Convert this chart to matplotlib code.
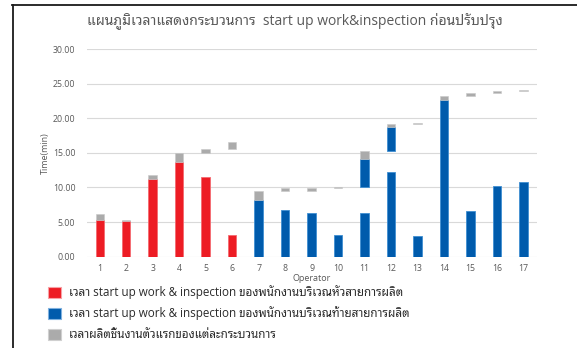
import numpy as np
import matplotlib
matplotlib.use('Agg')
import matplotlib.pyplot as plt
from matplotlib.patches import Rectangle
from matplotlib.lines import Line2D

plt.rcParams['font.family'] = ['Open Sans', 'Noto Sans Thai Looped', 'DejaVu Sans']

operators = np.arange(1, 18)
# start-up time from zero; ops 1-6 at the line head, 7-17 at the line tail
startup = [5.3, 5.1, 11.2, 13.7, 11.5, 3.2, 8.25, 6.75, 6.35, 3.1,
           6.25, 12.3, 3.05, 22.7, 6.55, 10.25, 10.8]
# second start-up block (only ops 11 and 12)
resume_lo = [0, 0, 0, 0, 0, 0, 0, 0, 0, 0, 10.07, 15.27, 0, 0, 0, 0, 0]
resume_hi = [0, 0, 0, 0, 0, 0, 0, 0, 0, 0, 14.1, 18.7, 0, 0, 0, 0, 0]
# first piece of each process
first_lo = [5.3, 5.1, 11.2, 13.7, 15.0, 15.5, 8.25, 9.55, 9.55, 9.93,
            14.1, 18.7, 19.2, 22.7, 23.2, 23.7, 23.94]
first_hi = [6.2, 5.3, 11.85, 15.0, 15.5, 16.5, 9.55, 9.93, 9.93, 10.07,
            15.27, 19.17, 19.35, 23.15, 23.7, 23.94, 24.12]
head_count = 6

labels = ['เวลา start up work & inspection ของพนักงานบริเวณหัวสายการผลิต',
          'เวลา start up work & inspection ของพนักงานบริเวณท้ายสายการผลิต',
          'เวลาผลิตชิ้นงานตัวแรกของแต่ละกระบวนการ']
title = 'แผนภูมิเวลาแสดงกระบวนการ  start up work&inspection ก่อนปรับปรุง'

red = '#ED1C24'
blue = '#005BAC'
grey = '#ABABAB'
txt = '#595959'

fig = plt.figure(figsize=(5.77, 3.48), dpi=100)
ax = fig.add_axes([0.150, 0.2624, 0.780, 0.5966])

colors = [red if i < head_count else blue for i in range(len(operators))]
edges = ['#F46A70' if i < head_count else '#3F8FD2' for i in range(len(operators))]
w = 0.32

startup = np.array(startup)
resume_lo = np.array(resume_lo)
resume_hi = np.array(resume_hi)
first_lo = np.array(first_lo)
first_hi = np.array(first_hi)

ax.bar(operators, startup, width=w, color=colors, edgecolor=edges, linewidth=0.6, zorder=3)
m = resume_hi > resume_lo
ax.bar(operators[m], (resume_hi - resume_lo)[m], bottom=resume_lo[m], width=w,
       color=blue, edgecolor='#3F8FD2', linewidth=0.6, zorder=3)
ax.bar(operators, first_hi - first_lo, bottom=first_lo, width=w,
       color=grey, edgecolor='#C8C8C8', linewidth=0.4, zorder=3)

ax.set_xlim(0.5, 17.5)
ax.set_ylim(0, 30)
ax.set_yticks(np.arange(0, 31, 5))
ax.set_yticklabels(['%.2f' % v for v in np.arange(0, 31, 5)])
ax.set_xticks(operators)
ax.tick_params(length=0, labelsize=6.3, colors=txt)
ax.tick_params(axis='y', pad=8)
ax.tick_params(axis='x', pad=5)
ax.grid(axis='y', color='#D9D9D9', linewidth=0.8, zorder=0)
for s in ax.spines.values():
    s.set_visible(False)
ax.set_xlabel('Operator', fontsize=6.5, color=txt, labelpad=1)
ax.set_ylabel('Time(min)', fontsize=6.5, color=txt, labelpad=2)

fig.text(0.511, 0.942, title, ha='center', va='center', fontsize=10, color=txt)

# legend below the plot
leg_colors = [red, blue, grey]
leg_edges = ['#F7A1A5', '#7FB1DF', '#D0D0D0']
for i, (c, e, lab) in enumerate(zip(leg_colors, leg_edges, labels)):
    yc = 292.5 + i * 21
    fig.add_artist(Rectangle((48 / 577, 1 - (yc + 5.5) / 348), 13 / 577, 11 / 348,
                             transform=fig.transFigure, facecolor=c, edgecolor=e, linewidth=0.8))
    fig.text(69 / 577, 1 - yc / 348, lab, ha='left', va='center', fontsize=8.4, color='#2b2b2b')

# frame around the chart
fig.add_artist(Line2D([12 / 577, 1], [1 - 5.3 / 348] * 2, transform=fig.transFigure,
                      color='#1a1a1a', linewidth=1.3))
fig.add_artist(Line2D([12.7 / 577] * 2, [1 - 5.3 / 348, 0], transform=fig.transFigure,
                      color='#1a1a1a', linewidth=1.3))

fig.savefig('out.png', dpi=100)
